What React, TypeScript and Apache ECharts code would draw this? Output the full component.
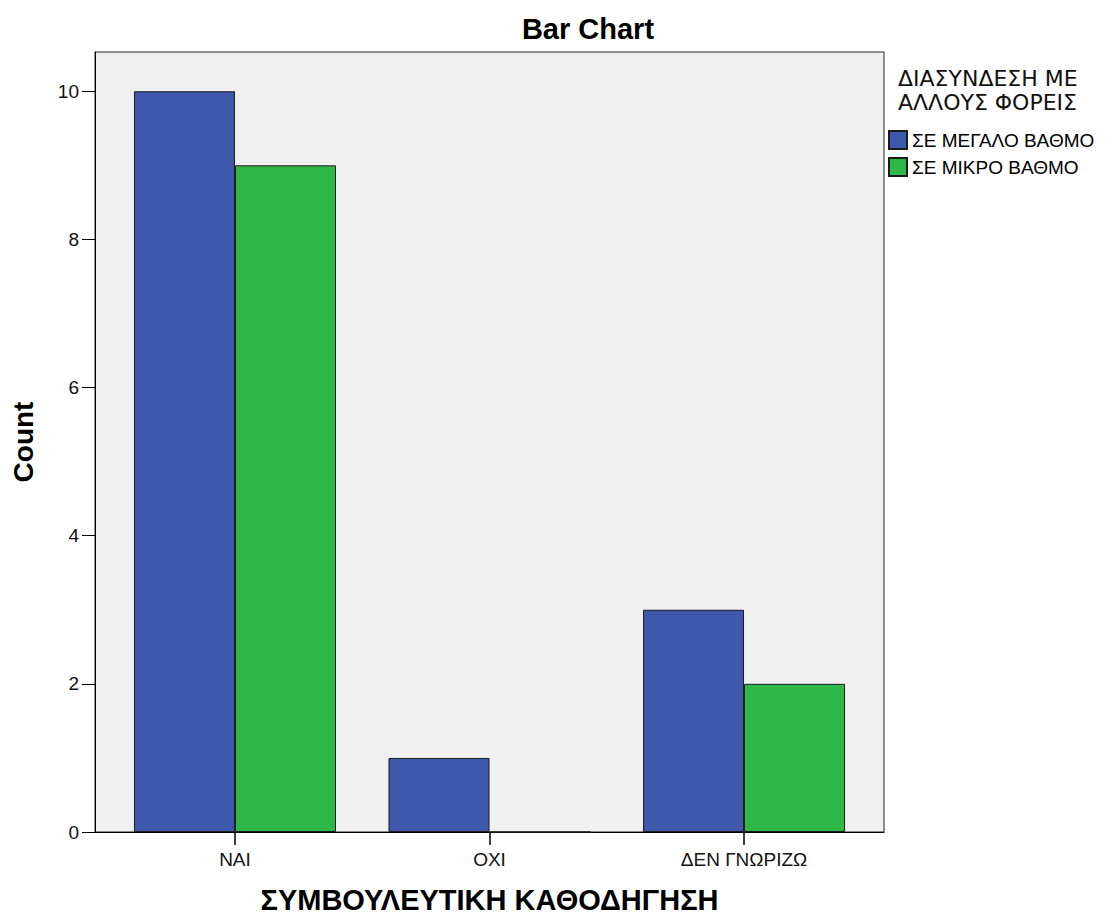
import React, { useEffect, useRef } from "react";
import * as echarts from "echarts";

const categories = ["ΝΑΙ", "ΟΧΙ", "ΔΕΝ ΓΝΩΡΙΖΩ"];
const seriesNames = ["ΣΕ ΜΕΓΑΛΟ ΒΑΘΜΟ", "ΣΕ ΜΙΚΡΟ ΒΑΘΜΟ"];
const largeValues = [10, 1, 3];
const smallValues = [9, 0, 2];
const yTicks = [0, 2, 4, 6, 8, 10];
const legendTitle = ["ΔΙΑΣΥΝΔΕΣΗ ΜΕ", "ΑΛΛΟΥΣ ΦΟΡΕΙΣ"];
const colors = ["#3E58AC", "#2EB848"];

const FONT = "'Liberation Sans', Arial, sans-serif";

export default function App() {
  const ref = useRef<HTMLDivElement>(null);
  useEffect(() => {
    if (!ref.current) return;
    const chart = echarts.init(ref.current, undefined, { renderer: "svg" });
    const idx = categories.map((_, i) => i);
    const mk = (vals: number[], i: number) => ({
      name: seriesNames[i],
      type: "bar",
      barWidth: 101,
      barGap: "0%",
      data: vals.map((v, k) => [idx[k], v]),
      itemStyle: { color: colors[i], borderColor: "#1a1a1a", borderWidth: 1 },
    });
    chart.setOption({
      animation: false,
      textStyle: { fontFamily: FONT },
      title: {
        text: "Bar Chart",
        left: 583,
        top: 9,
        textAlign: "center",
        textStyle: { fontSize: 29, fontWeight: "bold", color: "#000", fontFamily: FONT },
      },
      grid: {
        left: 95,
        right: 229,
        top: 52,
        bottom: 86,
        outerBoundsMode: "none",
        containLabel: false,
        show: true,
        backgroundColor: "#F0F0F0",
        borderColor: "#222",
        borderWidth: 1,
      },
      legend: {
        orient: "vertical",
        left: 883,
        top: 125,
        itemWidth: 18,
        itemHeight: 18,
        itemGap: 7,
        icon: "rect",
        data: seriesNames,
        textStyle: { fontSize: 19, color: "#000", fontFamily: FONT },
      },
      graphic: legendTitle.map((t, i) => ({
        type: "text",
        left: 898,
        top: 67 + i * 24,
        style: { text: t, fontSize: 22, fill: "#111", fontFamily: "'DejaVu Sans', sans-serif" },
      })),
      xAxis: {
        type: "value",
        min: -0.55,
        max: 2.55,
        name: "ΣΥΜΒΟΥΛΕΥΤΙΚΗ ΚΑΘΟΔΗΓΗΣΗ",
        nameLocation: "middle",
        nameGap: 53,
        nameTextStyle: { fontSize: 29, fontWeight: "bold", color: "#000", fontFamily: FONT },
        splitLine: { show: false },
        axisLine: { show: true, onZero: false, lineStyle: { color: "#000", width: 1 } },
        axisTick: { show: true, length: 13, customValues: idx, lineStyle: { color: "#000", width: 1.5 } },
        axisLabel: {
          customValues: idx,
          formatter: (v: number) => categories[Math.round(v)] ?? "",
          fontSize: 19,
          color: "#111",
          margin: 18,
          fontFamily: FONT,
        },
      },
      yAxis: {
        type: "value",
        min: 0,
        max: 10.53,
        name: "Count",
        nameLocation: "middle",
        nameGap: 58,
        nameTextStyle: { fontSize: 28, fontWeight: "bold", color: "#000", fontFamily: FONT },
        splitLine: { show: false },
        axisLine: { show: true, onZero: false, lineStyle: { color: "#000", width: 1 } },
        axisTick: { show: true, length: 13, customValues: yTicks, lineStyle: { color: "#000" } },
        axisLabel: { customValues: yTicks, fontSize: 19, color: "#111", margin: 16, fontFamily: FONT },
      },
      series: [mk(largeValues, 0), mk(smallValues, 1)],
    });
    return () => chart.dispose();
  }, []);
  return (
    <div
      ref={ref}
      style={{ position: "fixed", left: 0, top: 0, width: 1113, height: 918, background: "#fff" }}
    />
  );
}
